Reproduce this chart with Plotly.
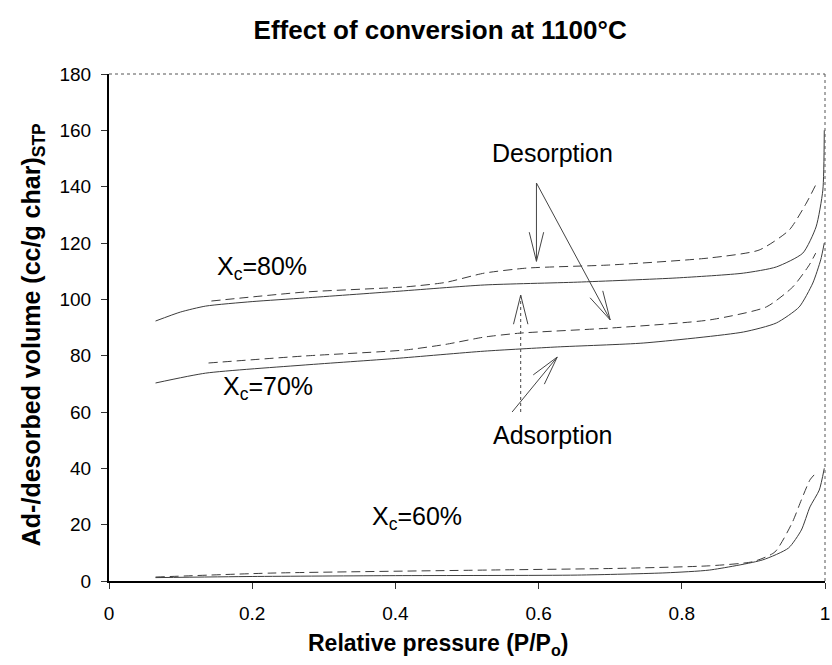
import math
import plotly.graph_objects as go

# ---- data (P/Po, volume cc/g STP) ----
x80_ads = [0.065, 0.10, 0.135, 0.20, 0.274, 0.40, 0.524, 0.654, 0.793, 0.886, 0.932, 0.969, 0.9875, 0.997, 0.999]
y80_ads = [92.3, 95.5, 97.6, 99.2, 100.5, 102.8, 105.1, 106.1, 107.6, 109.3, 111.5, 116.4, 125.7, 138.8, 160]
x80_des = [0.143, 0.274, 0.413, 0.47, 0.524, 0.584, 0.70, 0.839, 0.908, 0.950, 0.974, 0.987]
y80_des = [99.4, 102.6, 104.4, 106.0, 109.3, 111.1, 112.2, 114.7, 117.5, 124.6, 134.2, 140.6]

x70_ads = [0.065, 0.135, 0.274, 0.40, 0.524, 0.626, 0.747, 0.886, 0.932, 0.964, 0.983, 0.994, 0.999]
y70_ads = [70.3, 73.8, 76.7, 79.0, 81.6, 83.1, 84.5, 88.4, 91.6, 97.3, 105.8, 114.0, 120.0]
x70_des = [0.139, 0.274, 0.413, 0.47, 0.524, 0.574, 0.70, 0.839, 0.918, 0.955, 0.978, 0.987]
y70_des = [77.4, 79.9, 82.0, 84.0, 86.6, 88.0, 89.8, 92.7, 97.3, 104.4, 112.2, 116.4]

x60_ads = [0.065, 0.2, 0.4, 0.654, 0.778, 0.839, 0.913, 0.949, 0.967, 0.979, 0.992, 0.999]
y60_ads = [1.2, 1.6, 1.9, 2.1, 2.9, 3.9, 7.5, 11.7, 18.1, 26.3, 32.3, 40.0]
x60_des = [0.065, 0.225, 0.532, 0.715, 0.839, 0.90, 0.93, 0.954, 0.967, 0.979, 0.986]
y60_des = [1.4, 2.8, 3.9, 4.5, 5.4, 6.9, 10.3, 20.6, 28.8, 35.9, 38.0]

x_ticks = [0, 0.2, 0.4, 0.6, 0.8, 1]
x_ticktext = ["0", "0.2", "0.4", "0.6", "0.8", "1"]
y_ticks = [0, 20, 40, 60, 80, 100, 120, 140, 160, 180]

labels = ["X<sub>c</sub>=80%", "X<sub>c</sub>=70%", "X<sub>c</sub>=60%"]
label_pos = [(0.148, 111), (0.157, 68.5), (0.365, 22.5)]

# arrows: (tail x, tail y, head x, head y, dotted shaft?)
arrows = [
    (0.597, 141.3, 0.597, 113.5, False),   # Desorption -> 80%
    (0.597, 141.3, 0.700, 92.7, False),    # Desorption -> 70%
    (0.575, 60.0, 0.575, 101.5, True),     # Adsorption -> 80%
    (0.563, 60.0, 0.626, 79.5, False),     # Adsorption -> 70%
]

FONT = "Liberation Sans, Arial, sans-serif"
LINE_COLOR = "#3c3c3c"
ADS_STYLE = dict(color=LINE_COLOR, width=1)
DES_STYLE = dict(color=LINE_COLOR, width=1, dash="9px,5px")

W, H = 832, 665
M = dict(l=109, r=2, t=74, b=84)
X_RANGE = [0, 1]
Y_RANGE = [0, 180]
PX_X = (W - M["l"] - M["r"]) / (X_RANGE[1] - X_RANGE[0])
PX_Y = (H - M["t"] - M["b"]) / (Y_RANGE[1] - Y_RANGE[0])

fig = go.Figure()
for xa, ya, xd, yd in [(x80_ads, y80_ads, x80_des, y80_des),
                       (x70_ads, y70_ads, x70_des, y70_des),
                       (x60_ads, y60_ads, x60_des, y60_des)]:
    fig.add_trace(go.Scatter(x=xa, y=ya, mode="lines",
                             line=dict(**ADS_STYLE, shape="spline", smoothing=0.6), showlegend=False))
    fig.add_trace(go.Scatter(x=xd, y=yd, mode="lines",
                             line=dict(**DES_STYLE, shape="spline", smoothing=0.6), showlegend=False))

# text labels
for t, (lx, ly) in zip(labels, label_pos):
    fig.add_annotation(x=lx, y=ly, text=t, showarrow=False, xanchor="left", yanchor="middle",
                       font=dict(family=FONT, size=25, color="black"))

fig.add_annotation(x=0.62, y=152, text="Desorption", showarrow=False, yanchor="middle",
                   font=dict(family=FONT, size=25, color="black"))
fig.add_annotation(x=0.62, y=52, text="Adsorption", showarrow=False, yanchor="middle",
                   font=dict(family=FONT, size=25, color="black"))

# arrows drawn as thin line shapes with long open barbs
BARB_LEN = 30.0
BARB_ANG = math.radians(14)
ARROW_LINE = dict(color="#444", width=1)
for tx, ty, hx, hy, dotted in arrows:
    fig.add_shape(type="line", x0=tx, y0=ty, x1=hx, y1=hy,
                  line=dict(**ARROW_LINE, dash="dot" if dotted else "solid"))
    dx = (tx - hx) * PX_X
    dy = (ty - hy) * PX_Y
    L = math.hypot(dx, dy)
    ux, uy = dx / L, dy / L
    for s in (-1, 1):
        c, sn = math.cos(s * BARB_ANG), math.sin(s * BARB_ANG)
        bx = ux * c - uy * sn
        by = ux * sn + uy * c
        fig.add_shape(type="line", x0=hx, y0=hy,
                      x1=hx + bx * BARB_LEN / PX_X, y1=hy + by * BARB_LEN / PX_Y,
                      line=ARROW_LINE)

# axis titles
fig.add_annotation(xref="paper", yref="paper", x=0.46, y=-0.125, xanchor="center", yanchor="middle",
                   text="<b>Relative pressure (P/P<sub>o</sub>)</b>",
                   showarrow=False, font=dict(family=FONT, size=23, color="black"))
fig.add_annotation(xref="paper", yref="paper", x=-0.106, y=0.485, xanchor="center", yanchor="middle",
                   textangle=-90,
                   text="<b>Ad-/desorbed volume (cc/g char)<sub>STP</sub></b>",
                   showarrow=False, font=dict(family=FONT, size=25, color="black"))

# frame top/right
fig.add_shape(type="line", xref="paper", yref="paper", x0=0, y0=1, x1=1, y1=1,
              line=dict(color="#555", width=1, dash="dot"))
fig.add_shape(type="line", xref="paper", yref="paper", x0=1, y0=0, x1=1, y1=1,
              line=dict(color="#555", width=1, dash="dot"))

fig.update_layout(
    width=W, height=H,
    margin=M,
    paper_bgcolor="white", plot_bgcolor="white",
    title=dict(text="<b>Effect of conversion at 1100°C</b>", xref="container", yref="container",
               x=0.529, y=0.955, xanchor="center", yanchor="middle",
               font=dict(family=FONT, size=26, color="black")),
    font=dict(family=FONT, color="black"),
)
fig.update_xaxes(range=X_RANGE, tickvals=x_ticks, ticktext=x_ticktext, showgrid=False, zeroline=False,
                 showline=True, linecolor="black", linewidth=2, ticks="outside", ticklen=6, tickcolor="#333",
                 tickfont=dict(family=FONT, size=19, color="black"), ticklabelstandoff=8,
                 ticklabeloverflow="allow")
fig.update_yaxes(range=Y_RANGE, tickvals=y_ticks, showgrid=False, zeroline=False,
                 showline=True, linecolor="black", linewidth=2, ticks="outside", ticklen=6, tickcolor="#333",
                 tickfont=dict(family=FONT, size=19, color="black"), ticklabelstandoff=6)

fig.write_html("out.html")
